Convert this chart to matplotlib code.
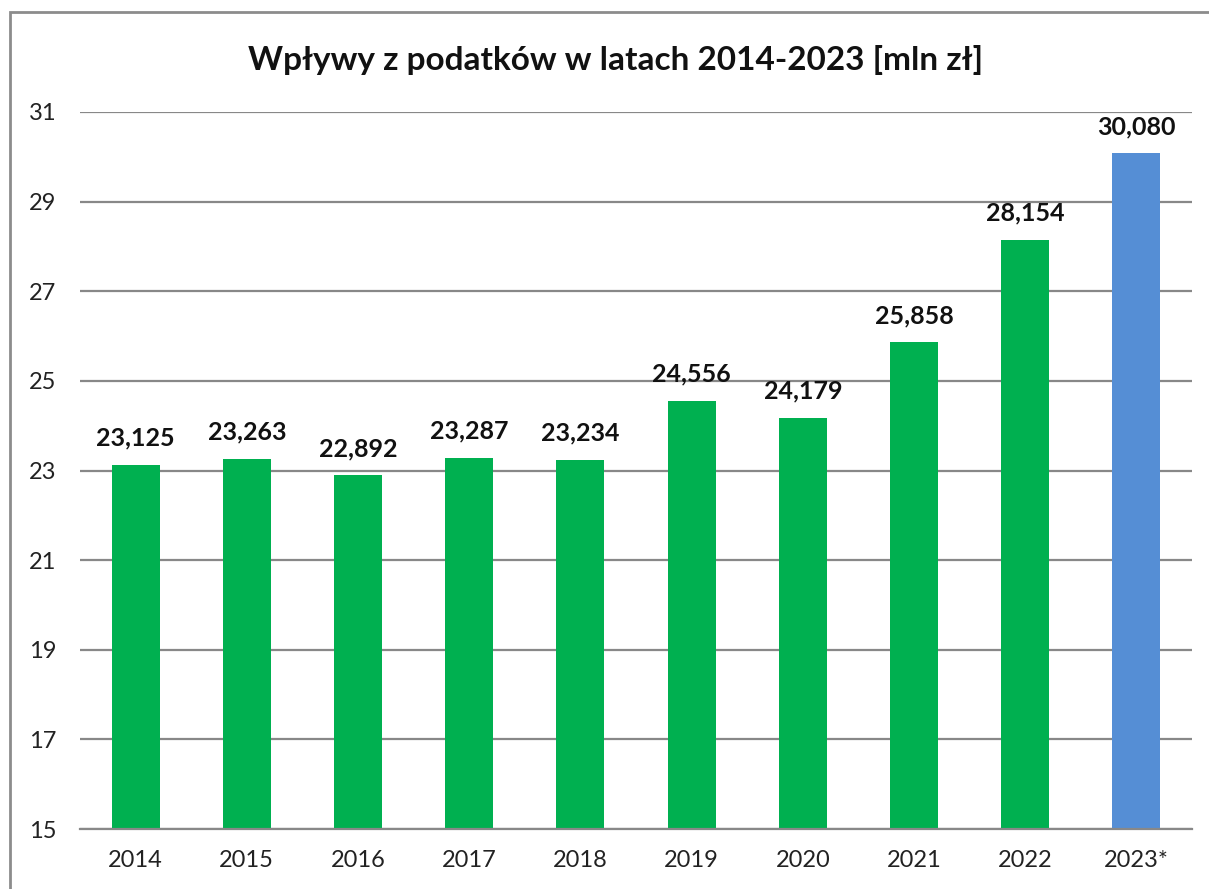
import matplotlib
matplotlib.use("Agg")
import matplotlib.pyplot as plt
import matplotlib.patches as mpatches

years = ['2014', '2015', '2016', '2017', '2018', '2019', '2020', '2021', '2022', '2023*']
values = [23.125, 23.263, 22.892, 23.287, 23.234, 24.556, 24.179, 25.858, 28.154, 30.080]
colors = ['#00B050'] * 9 + ['#558ED5']
yticks = [15, 17, 19, 21, 23, 25, 27, 29, 31]

plt.rcParams['font.family'] = ['Lato', 'DejaVu Sans']

fig = plt.figure(figsize=(12.09, 8.89), dpi=100)
ax = fig.add_axes([80/1209, 1-829/889, 1112/1209, (829-112)/889])

x = range(len(years))
ax.bar(x, values, width=0.43, color=colors, zorder=3)

for xi, v in zip(x, values):
    ax.text(xi, v + 0.34, ('%.3f' % v).replace('.', ','), ha='center', va='bottom',
            fontsize=18, fontweight='bold', color='#111111')

ax.set_xlim(-0.5, len(years) - 0.5)
ax.set_ylim(15, 31)
ax.set_yticks(yticks)
ax.set_xticks(list(x))
ax.set_xticklabels(years)
ax.tick_params(axis='both', length=0, labelsize=17, colors='#222222')
ax.tick_params(axis='y', pad=17)
ax.tick_params(axis='x', pad=15)
ax.yaxis.grid(True, color='#888888', linewidth=1.6, zorder=0)

for s in ['top', 'right', 'left']:
    ax.spines[s].set_visible(False)
ax.spines['bottom'].set_color('#888888')
ax.spines['bottom'].set_linewidth(1.6)
ax.spines['bottom'].set_zorder(4)

fig.text(616/1209, 1-60/889, 'Wpływy z podatków w latach 2014-2023 [mln zł]',
         ha='center', va='center', fontsize=24, fontweight='bold', color='#111111')

# outer frame of the chart (cut off on the right and bottom)
frame = mpatches.Rectangle((10/1209, -0.5), 2, 0.5 + 1 - 12/889, transform=fig.transFigure,
                           fill=False, edgecolor='#8c8c8c', linewidth=2)
fig.patches.append(frame)

plt.savefig('out.png', dpi=100)
